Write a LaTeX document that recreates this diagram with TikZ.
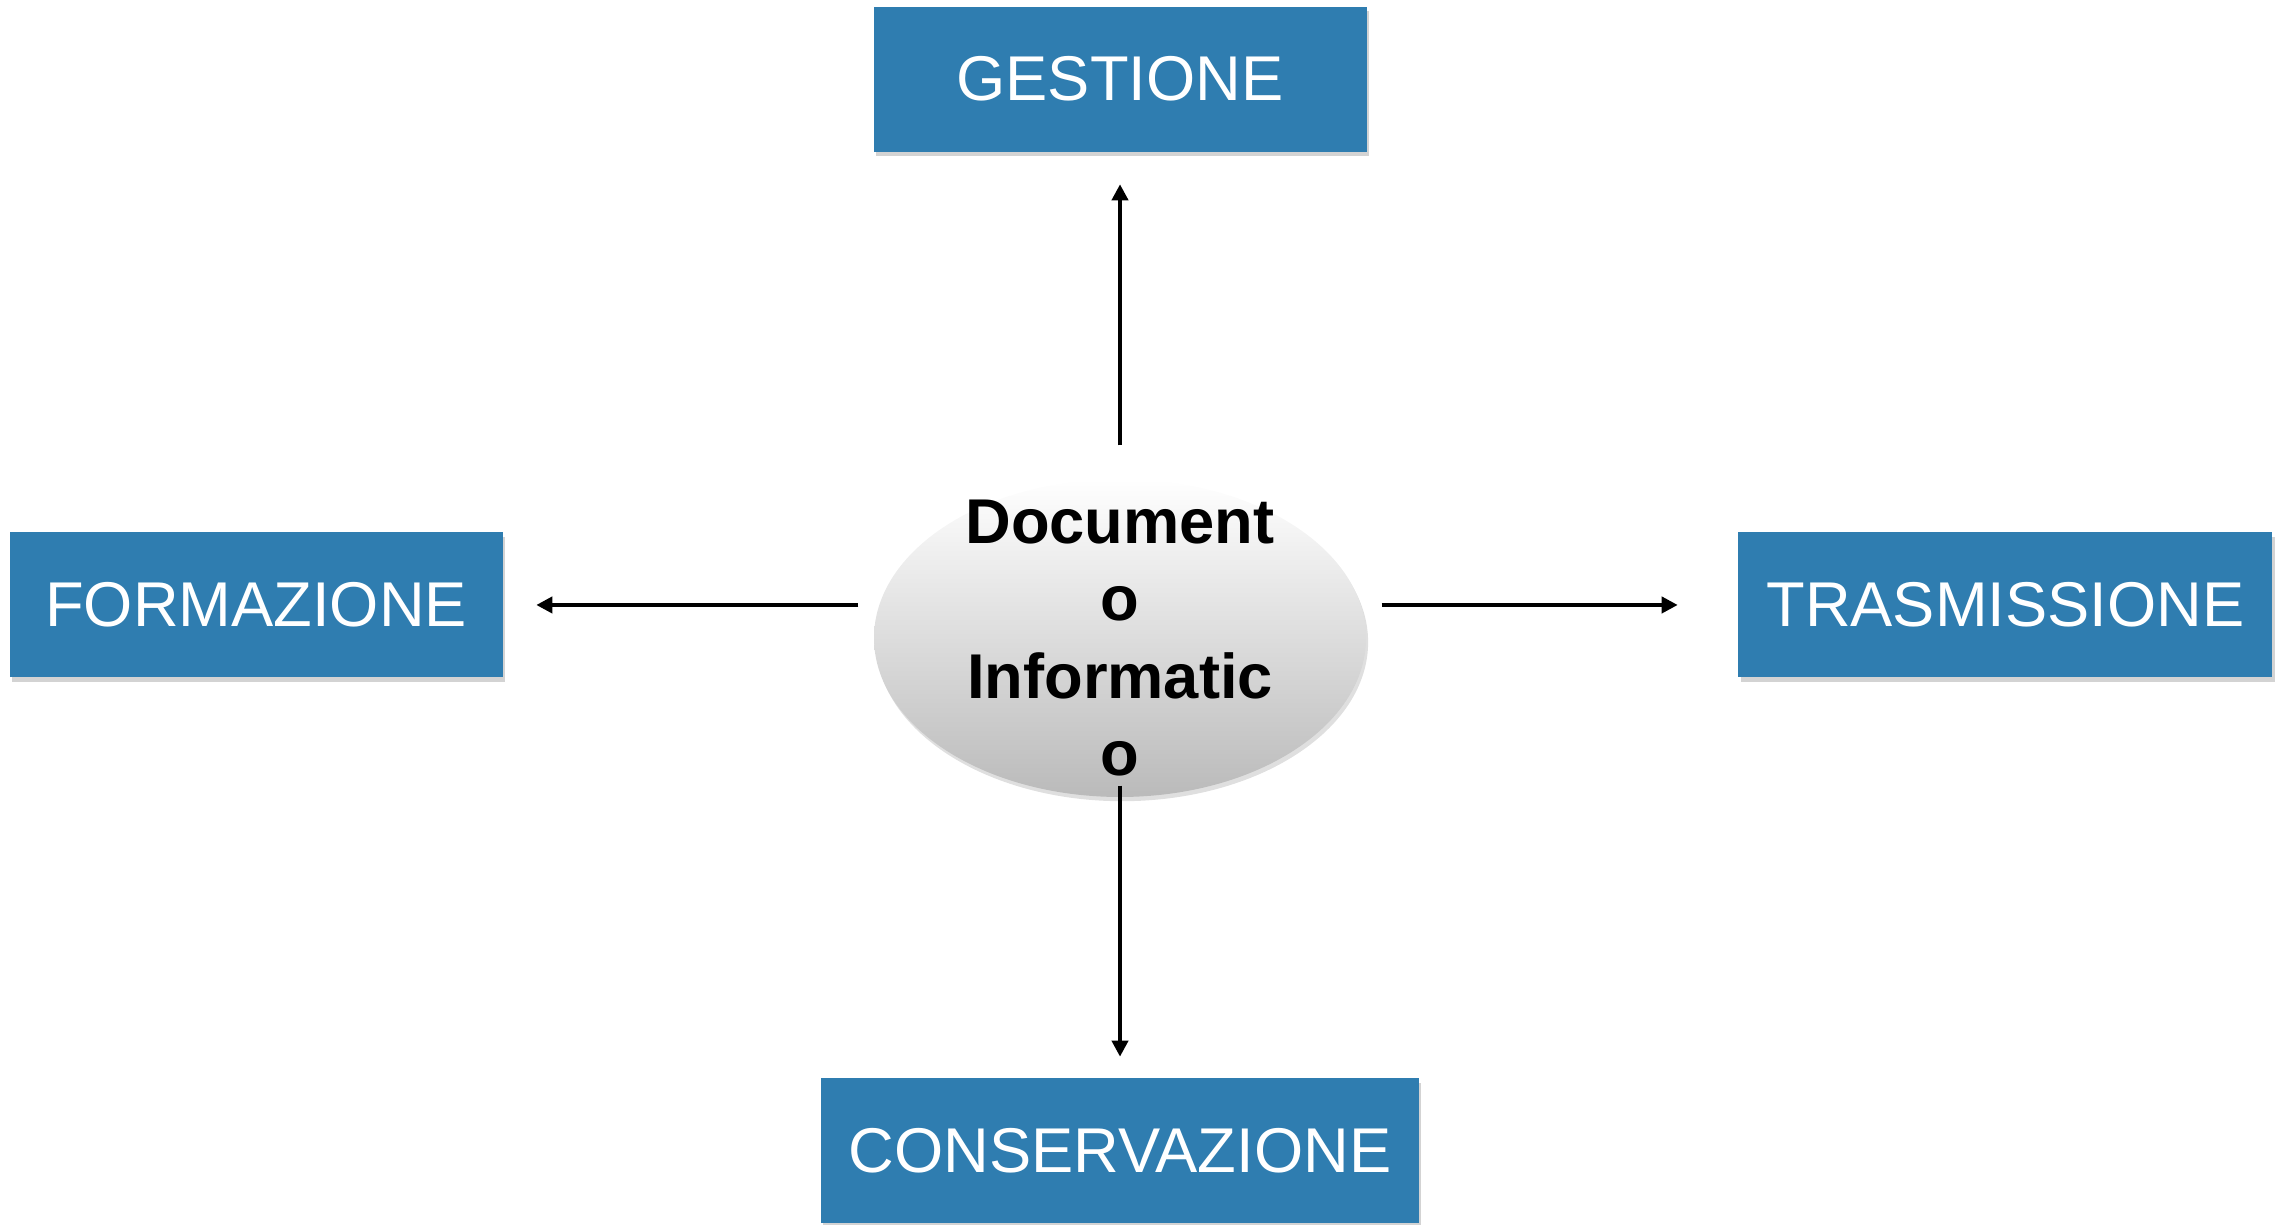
\documentclass[tikz,border=0pt]{standalone}
\usepackage{fontspec}
\setmainfont{Liberation Sans}
\usetikzlibrary{positioning, shapes.geometric, shadows, arrows.meta}
\definecolor{phaseblue}{RGB}{47,125,176}

\begin{document}
\begin{tikzpicture}[
every node/.style={font=\fontsize{18}{22}\selectfont},
phase/.style={rectangle, fill=phaseblue, text=white, inner xsep=0.28cm, minimum width=4.93cm, minimum height=1.45cm, drop shadow={shadow xshift=0.6pt, shadow yshift=-1.4pt, opacity=0.35}},
core/.style={ellipse, top color=white, bottom color=black!27, minimum width=4.92cm, minimum height=3.18cm, inner sep=0pt, drop shadow={shadow xshift=0.6pt, shadow yshift=-1.2pt, opacity=0.25}},
coretext/.style={font=\fontsize{18}{22}\selectfont\bfseries, align=center},
flow/.style={line width=1.1pt, -{Triangle[length=4.6pt, width=4.6pt]}}
]

\useasboundingbox (0,0) rectangle (22.75,12.25);

\node [core] (doc) at (11.2,5.87) {};
\node [coretext] (doclabel) at (doc) {Document\\o\\Informatic\\o};

\node [phase] (gestione) [above=3.26cm of doc] {GESTIONE};
\node [phase] (formazione) [left=3.7cm of doc, yshift=3.3mm] {FORMAZIONE};
\node [phase] (trasmissione) [right=3.71cm of doc, yshift=3.3mm] {TRASMISSIONE};
\node [phase] (conservazione) [below=2.8cm of doc] {CONSERVAZIONE};

\draw [flow, shorten <=3.3mm, shorten >=3.2mm] (doc) -- (gestione);
\draw [flow, shorten <=1.5mm, shorten >=3.3mm] (doc.west |- formazione) -- (formazione);
\draw [flow, shorten <=1.5mm, shorten >=6mm] (doc.east |- trasmissione) -- (trasmissione);
\draw [flow, shorten <=-1.2mm, shorten >=2.1mm] (doc) -- (conservazione);

\end{tikzpicture}
\end{document}
